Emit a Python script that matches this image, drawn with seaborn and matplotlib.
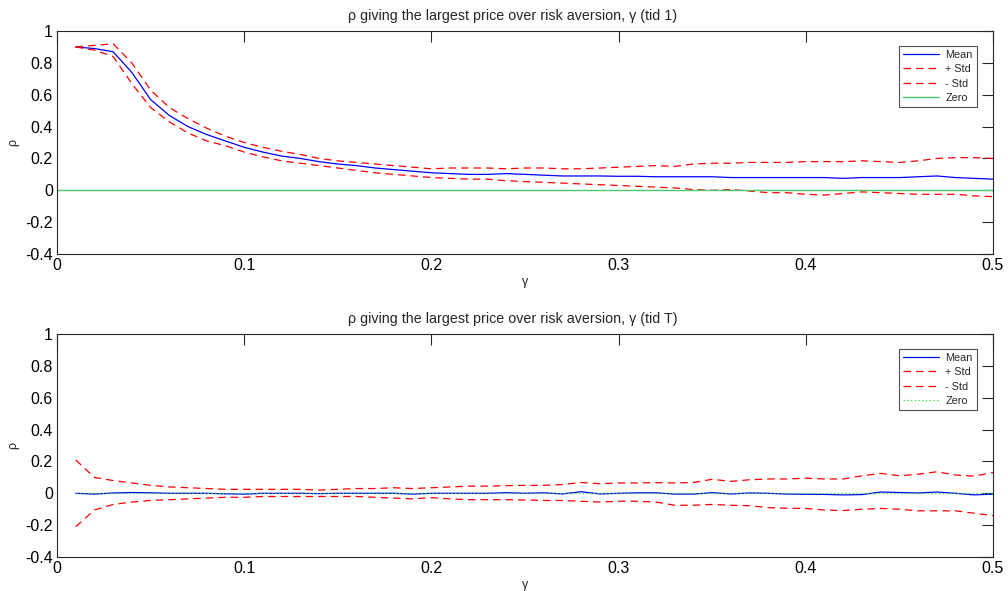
import numpy as np
import pandas as pd
import seaborn as sns
import matplotlib
matplotlib.use("Agg")
import matplotlib.pyplot as plt
from matplotlib.ticker import FuncFormatter

# risk aversion grid
gamma = [round(0.01 * i, 2) for i in range(1, 51)]

# first period (tid 1)
mean_t1 = [0.90, 0.89, 0.87, 0.74, 0.57, 0.47, 0.40, 0.35, 0.31, 0.27,
           0.24, 0.215, 0.20, 0.18, 0.165, 0.155, 0.14, 0.13, 0.12, 0.11,
           0.105, 0.10, 0.10, 0.105, 0.10, 0.095, 0.09, 0.09, 0.09, 0.088,
           0.088, 0.085, 0.085, 0.085, 0.085, 0.08, 0.08, 0.08, 0.08, 0.08,
           0.08, 0.075, 0.08, 0.08, 0.08, 0.085, 0.09, 0.08, 0.075, 0.07]
plus_t1 = [0.90, 0.91, 0.92, 0.80, 0.63, 0.52, 0.45, 0.39, 0.34, 0.30,
           0.27, 0.245, 0.225, 0.20, 0.185, 0.175, 0.165, 0.155, 0.145, 0.135,
           0.14, 0.14, 0.14, 0.135, 0.14, 0.14, 0.135, 0.135, 0.14, 0.145,
           0.15, 0.155, 0.15, 0.165, 0.17, 0.17, 0.175, 0.175, 0.175, 0.18,
           0.18, 0.18, 0.185, 0.18, 0.175, 0.185, 0.20, 0.205, 0.205, 0.20]
minus_t1 = [0.90, 0.88, 0.84, 0.67, 0.52, 0.43, 0.36, 0.31, 0.28, 0.24,
            0.21, 0.185, 0.17, 0.155, 0.14, 0.125, 0.11, 0.10, 0.09, 0.08,
            0.075, 0.07, 0.07, 0.06, 0.055, 0.05, 0.045, 0.04, 0.035, 0.03,
            0.025, 0.02, 0.015, 0.005, 0.0, 0.005, -0.005, -0.015, -0.015, -0.025,
            -0.03, -0.02, -0.01, -0.015, -0.02, -0.025, -0.025, -0.025, -0.035, -0.04]

# last period (tid T)
mean_tT = [0.0, -0.005, 0.002, 0.005, 0.003, 0.0, 0.0, 0.0, -0.003, -0.005,
           0.0, 0.0, 0.0, -0.002, 0.0, 0.0, 0.0, 0.0, -0.005, 0.0,
           0.0, 0.0, 0.0, 0.004, 0.0, 0.003, -0.004, 0.01, -0.004, 0.0,
           0.003, 0.003, -0.005, -0.005, 0.004, -0.004, 0.002, 0.0, -0.005, -0.006,
           -0.007, -0.01, -0.008, 0.008, 0.005, 0.002, 0.008, 0.0, -0.01, -0.005]
plus_tT = [0.21, 0.10, 0.08, 0.065, 0.05, 0.04, 0.035, 0.03, 0.025, 0.025,
           0.025, 0.025, 0.025, 0.02, 0.025, 0.03, 0.03, 0.035, 0.03, 0.035,
           0.04, 0.045, 0.045, 0.048, 0.05, 0.05, 0.055, 0.068, 0.06, 0.065,
           0.065, 0.067, 0.065, 0.068, 0.088, 0.075, 0.085, 0.09, 0.09, 0.095,
           0.09, 0.09, 0.11, 0.125, 0.11, 0.12, 0.135, 0.115, 0.108, 0.13]
minus_tT = [-0.21, -0.105, -0.07, -0.055, -0.045, -0.04, -0.035, -0.03, -0.025, -0.025,
            -0.02, -0.02, -0.02, -0.02, -0.02, -0.02, -0.025, -0.03, -0.035, -0.027,
            -0.035, -0.04, -0.04, -0.04, -0.042, -0.045, -0.045, -0.05, -0.055, -0.05,
            -0.05, -0.055, -0.075, -0.075, -0.07, -0.075, -0.078, -0.09, -0.094, -0.095,
            -0.105, -0.108, -0.1, -0.095, -0.1, -0.11, -0.11, -0.11, -0.125, -0.14]

zero = [0.0] * len(gamma)

x_ticks = [0, 0.1, 0.2, 0.3, 0.4, 0.5]
y_ticks = [-0.4, -0.2, 0, 0.2, 0.4, 0.6, 0.8, 1]

sns.set_theme(style="white")
plt.rcParams["font.family"] = ["Liberation Sans", "DejaVu Sans"]
plt.rcParams["axes.edgecolor"] = "#262626"
plt.rcParams["axes.linewidth"] = 0.8

fig = plt.figure(figsize=(10.08, 5.91), dpi=100)
ax_top = fig.add_axes([0.0565, 0.5702, 0.9286, 0.3773])
ax_bot = fig.add_axes([0.0565, 0.0575, 0.9286, 0.3773])

fmt = FuncFormatter(lambda v, p: "%g" % round(v, 2))


def draw_panel(ax, mean, plus, minus, zero_style, zero_color, period):
    df = pd.DataFrame({"gamma": gamma, "mean": mean, "plus": plus,
                       "minus": minus, "zero": zero})
    sns.lineplot(data=df, x="gamma", y="mean", ax=ax, color="#0000ff",
                 linewidth=0.9, label="Mean")
    sns.lineplot(data=df, x="gamma", y="plus", ax=ax, color="#ff0000",
                 linewidth=0.9, linestyle=(0, (6, 4)), label="+ Std")
    sns.lineplot(data=df, x="gamma", y="minus", ax=ax, color="#ff0000",
                 linewidth=0.9, linestyle=(0, (6, 4)), label="- Std")
    if zero_style == "-":
        sns.lineplot(x=[0, 0.5], y=[0, 0], ax=ax, color=zero_color,
                     linewidth=1.0, label="Zero")
    else:
        sns.lineplot(data=df, x="gamma", y="zero", ax=ax, color=zero_color,
                     linewidth=0.9, linestyle=(0, (1, 2)), label="Zero")
    ax.set_xlim(0, 0.5)
    ax.set_ylim(-0.4, 1)
    ax.set_xticks(x_ticks)
    ax.set_yticks(y_ticks)
    ax.xaxis.set_major_formatter(fmt)
    ax.yaxis.set_major_formatter(fmt)
    ax.tick_params(direction="in", length=8, width=0.8, top=True, right=True,
                   labelsize=11.5, colors="#262626", pad=3)
    ax.tick_params(axis="x", labelcolor="black")
    ax.tick_params(axis="y", labelcolor="black")
    ax.set_xlabel("γ", fontsize=9, labelpad=2)
    ax.set_ylabel("ρ", fontsize=9, labelpad=4)
    ax.set_title("ρ giving the largest price over risk aversion, γ (tid %s)" % period,
                 fontsize=10.3, pad=8, x=0.487)
    leg = ax.legend(loc="upper right", bbox_to_anchor=(0.983, 0.935),
                    borderaxespad=0, fontsize=7.8, handlelength=3.3,
                    labelspacing=0.4, borderpad=0.4, handletextpad=0.6,
                    fancybox=False, frameon=True)
    leg.get_frame().set_edgecolor("#262626")
    leg.get_frame().set_linewidth(0.8)


draw_panel(ax_top, mean_t1, plus_t1, minus_t1, "-", "#4cc870", "1")
draw_panel(ax_bot, mean_tT, plus_tT, minus_tT, ":", "#22ee22", "T")

fig.savefig("out.png", dpi=100, facecolor="white")
